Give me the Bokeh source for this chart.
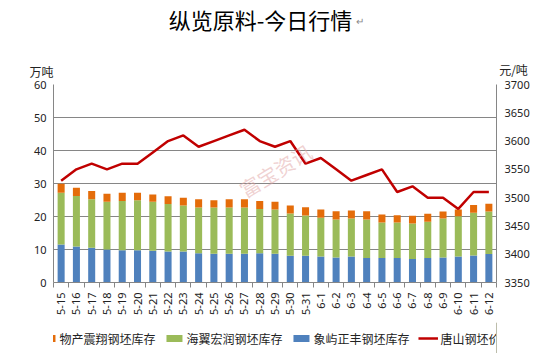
import math
from bokeh.plotting import figure
from bokeh.layouts import column
from bokeh.models import Range1d, LinearAxis, FixedTicker, Legend, LegendItem, Label, ColumnDataSource
from bokeh.embed import file_html
from bokeh.resources import INLINE

dates = ["5-15", "5-16", "5-17", "5-18", "5-19", "5-20", "5-21", "5-22", "5-23", "5-24",
         "5-25", "5-26", "5-27", "5-28", "5-29", "5-30", "5-31", "6-1", "6-2", "6-3",
         "6-4", "6-5", "6-6", "6-7", "6-8", "6-9", "6-10", "6-11", "6-12"]
xiangyu = [11.5, 10.9, 10.5, 10.0, 9.8, 9.8, 9.6, 9.4, 9.4, 8.9,
           8.7, 8.7, 8.7, 8.9, 8.7, 8.1, 8.1, 7.9, 7.6, 7.9,
           7.4, 7.4, 7.4, 7.1, 7.4, 7.6, 7.9, 8.2, 8.6]
haiyi = [15.7, 15.3, 14.7, 14.5, 14.9, 15.1, 14.9, 14.4, 13.9, 13.8,
         14.0, 14.0, 14.0, 13.4, 13.4, 12.8, 12.2, 11.7, 11.5, 11.5,
         11.7, 10.8, 10.8, 10.8, 11.0, 11.8, 12.2, 12.9, 12.9]
wuchan = [2.7, 2.5, 2.5, 2.4, 2.5, 2.3, 2.2, 2.3, 2.4, 2.5,
          2.2, 2.5, 2.5, 2.4, 2.4, 2.4, 2.5, 2.5, 2.5, 2.4,
          2.5, 2.4, 2.2, 2.3, 2.4, 2.1, 2.0, 2.4, 2.4]
price = [3530, 3550, 3560, 3550, 3560, 3560, 3580, 3600, 3610, 3590,
         3600, 3610, 3620, 3600, 3590, 3600, 3560, 3570, 3550, 3530,
         3540, 3550, 3510, 3520, 3500, 3500, 3480, 3510, 3510]
left_ticks = [0, 10, 20, 30, 40, 50, 60]
right_ticks = [3350, 3400, 3450, 3500, 3550, 3600, 3650, 3700]

names = ["物产震翔钢坯库存", "海翼宏润钢坯库存", "象屿正丰钢坯库存", "唐山钢坯价格"]
C_OR, C_GR, C_BL, C_RD = "#E46C0A", "#9BBB59", "#4F81BD", "#C00000"
CJK = "Noto Sans CJK SC"
NUM = "Noto Sans"

idx = list(range(len(dates)))
src = ColumnDataSource(dict(x=idx, xiangyu=xiangyu, haiyi=haiyi, wuchan=wuchan, price=price))

p = figure(frame_width=443, frame_height=198, output_backend="svg", toolbar_location=None,
           x_range=Range1d(-0.5, len(dates) - 0.5), y_range=Range1d(0, 60),
           min_border_left=53, min_border_right=56, min_border_top=84, min_border_bottom=40)
p.extra_y_ranges = {"price": Range1d(3350, 3700)}
p.outline_line_color = None
p.background_fill_color = "white"

bars = p.vbar_stack(["xiangyu", "haiyi", "wuchan"], x="x", width=0.46, source=src,
                    fill_color=[C_BL, C_GR, C_OR], line_color=None)
ln = p.line("x", "price", source=src, y_range_name="price", line_color=C_RD, line_width=2.5)

# axes
p.xgrid.visible = False
p.ygrid.grid_line_color = "#868686"
p.ygrid.grid_line_width = 1

xa = p.xaxis[0]
xa.ticker = FixedTicker(ticks=idx, minor_ticks=[i - 0.5 for i in range(len(dates) + 1)])
xa.major_label_overrides = {i: d for i, d in enumerate(dates)}
xa.major_label_orientation = math.pi / 2
xa.major_tick_out = 0
xa.major_tick_in = 0
xa.minor_tick_out = 5
xa.minor_tick_in = 0
xa.minor_tick_line_color = "#868686"
xa.axis_line_color = "#868686"
xa.major_label_text_font = NUM
xa.major_label_text_font_size = "11px"
xa.major_label_text_color = "#222222"
xa.major_label_standoff = 5

ya = p.yaxis[0]
ya.ticker = FixedTicker(ticks=left_ticks)
ya.major_tick_out = 0
ya.major_tick_in = 0
ya.minor_tick_out = 0
ya.minor_tick_in = 0
ya.axis_line_color = "#868686"
ya.major_label_text_font = NUM
ya.major_label_text_font_size = "11px"
ya.major_label_text_color = "#222222"
ya.major_label_standoff = 7

ra = LinearAxis(y_range_name="price", ticker=FixedTicker(ticks=right_ticks))
ra.major_tick_out = 0
ra.major_tick_in = 0
ra.minor_tick_out = 0
ra.minor_tick_in = 0
ra.axis_line_color = "#868686"
ra.major_label_text_font = NUM
ra.major_label_text_font_size = "11px"
ra.major_label_text_color = "#222222"
ra.major_label_standoff = 8
p.add_layout(ra, "right")

# axis units, title (each label sits in its own stacked panel above the frame)
p.add_layout(Label(x=-12, y=13, x_units="screen", y_units="screen", text="万吨",
                   text_font=CJK, text_font_size="12px", text_align="center",
                   text_baseline="middle", text_color="#222222"), "above")
p.add_layout(Label(x=460, y=-2, x_units="screen", y_units="screen", text="元/吨",
                   text_font=CJK, text_font_size="12px", text_align="center",
                   text_baseline="middle", text_color="#222222"), "above")
p.add_layout(Label(x=207, y=32, x_units="screen", y_units="screen", text="纵览原料-今日行情",
                   text_font=CJK, text_font_size="22px", text_align="center",
                   text_baseline="middle", text_color="#000000"), "above")
p.add_layout(Label(x=302, y=-2, x_units="screen", y_units="screen", text="↵",
                   text_font=NUM, text_font_size="10px", text_align="left",
                   text_baseline="middle", text_color="#888888"), "above")
# watermark
p.add_layout(Label(x=222, y=112, x_units="screen", y_units="screen", text="富宝资讯",
                   text_font=CJK, text_font_size="20px", text_align="center",
                   text_baseline="middle", text_color="#DFA5A5", text_alpha=0.5, angle=0.55))

# legend strip below the chart (full width so nothing is clipped)
p2 = figure(width=552, height=31, x_range=Range1d(0, 1), y_range=Range1d(0, 1),
            x_axis_type=None, y_axis_type=None, toolbar_location=None, output_backend="svg",
            min_border_left=0, min_border_right=0, min_border_top=0, min_border_bottom=0)
p2.outline_line_color = None
d_or = p2.vbar(x=[5], top=[5], width=0.5, fill_color=C_OR, line_color=None)
d_gr = p2.vbar(x=[5], top=[5], width=0.5, fill_color=C_GR, line_color=None)
d_bl = p2.vbar(x=[5], top=[5], width=0.5, fill_color=C_BL, line_color=None)
d_ln = p2.line(x=[5, 6], y=[5, 6], line_color=C_RD, line_width=2.5)

legend = Legend(items=[LegendItem(label=names[0], renderers=[d_or]),
                       LegendItem(label=names[1], renderers=[d_gr]),
                       LegendItem(label=names[2], renderers=[d_bl]),
                       LegendItem(label=names[3], renderers=[d_ln])],
                orientation="horizontal", location="center",
                glyph_width=20, glyph_height=9, label_standoff=3, spacing=8,
                padding=0, margin=0, border_line_color=None, background_fill_alpha=0,
                label_text_font=CJK, label_text_font_size="12px", label_text_color="#222222")
p2.add_layout(legend, "center")

layout = column(p, p2)
open("out.html", "w").write(file_html(layout, INLINE))
